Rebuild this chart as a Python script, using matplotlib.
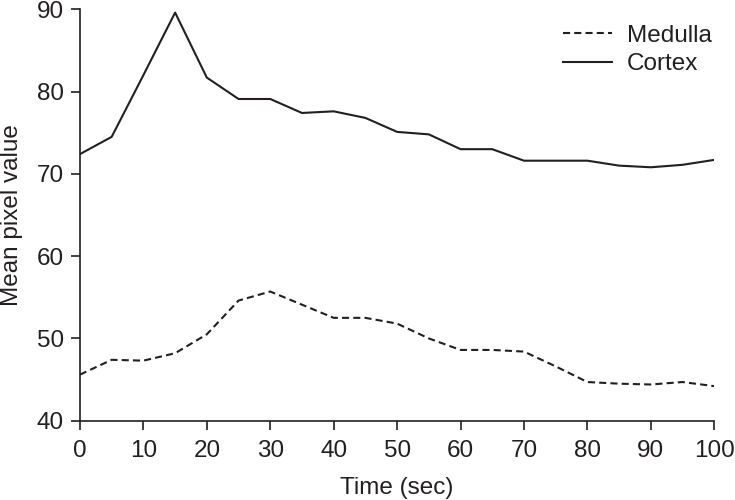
import matplotlib
matplotlib.use("Agg")
import matplotlib.pyplot as plt

time_sec = [0, 5, 10, 15, 20, 25, 30, 35, 40, 45, 50, 55, 60, 65, 70, 75, 80, 85, 90, 95, 100]
cortex = [72.4, 74.5, 82.0, 89.6, 81.7, 79.1, 79.1, 77.4, 77.6, 76.8, 75.1, 74.8,
          73.0, 73.0, 71.6, 71.6, 71.6, 71.0, 70.8, 71.1, 71.7]
medulla = [45.6, 47.4, 47.3, 48.2, 50.5, 54.6, 55.7, 54.1, 52.5, 52.5, 51.8, 50.0,
           48.6, 48.6, 48.4, 46.6, 44.7, 44.5, 44.4, 44.7, 44.2]
x_ticks = [0, 10, 20, 30, 40, 50, 60, 70, 80, 90, 100]
y_ticks = [40, 50, 60, 70, 80, 90]

plt.rcParams['font.family'] = ['Liberation Sans', 'DejaVu Sans']
ink = '#231f20'
fs = 17.5

fig = plt.figure(figsize=(7.35, 5.0), dpi=100)
ax = fig.add_axes([0.1088, 0.1586, 0.863, 0.8228])

ax.plot(time_sec, medulla, color=ink, lw=1.5, dashes=(3.4, 2.0), label='Medulla')
ax.plot(time_sec, cortex, color=ink, lw=1.5, label='Cortex')

ax.set_xlim(0, 100)
ax.set_ylim(40, 90)
ax.set_xticks(x_ticks)
ax.set_yticks(y_ticks)
for s in ['top', 'right']:
    ax.spines[s].set_visible(False)
for s in ['left', 'bottom']:
    ax.spines[s].set_color(ink)
    ax.spines[s].set_linewidth(1.2)
ax.tick_params(axis='both', direction='out', length=6.5, width=1.2, color=ink,
               labelsize=fs, labelcolor=ink)
ax.tick_params(axis='x', pad=7.5)
ax.tick_params(axis='y', pad=5)
ax.set_xlabel('Time (sec)', fontsize=fs, color=ink, labelpad=11)
ax.set_ylabel('Mean pixel value', fontsize=fs, color=ink, labelpad=10)

leg = ax.legend(loc='upper right', frameon=False, fontsize=fs, handlelength=2.0,
                handletextpad=0.62, labelspacing=0.26, borderaxespad=0.0,
                borderpad=0.1, bbox_to_anchor=(1.0, 0.968))
for t in leg.get_texts():
    t.set_color(ink)

fig.savefig('out.png', dpi=100)
